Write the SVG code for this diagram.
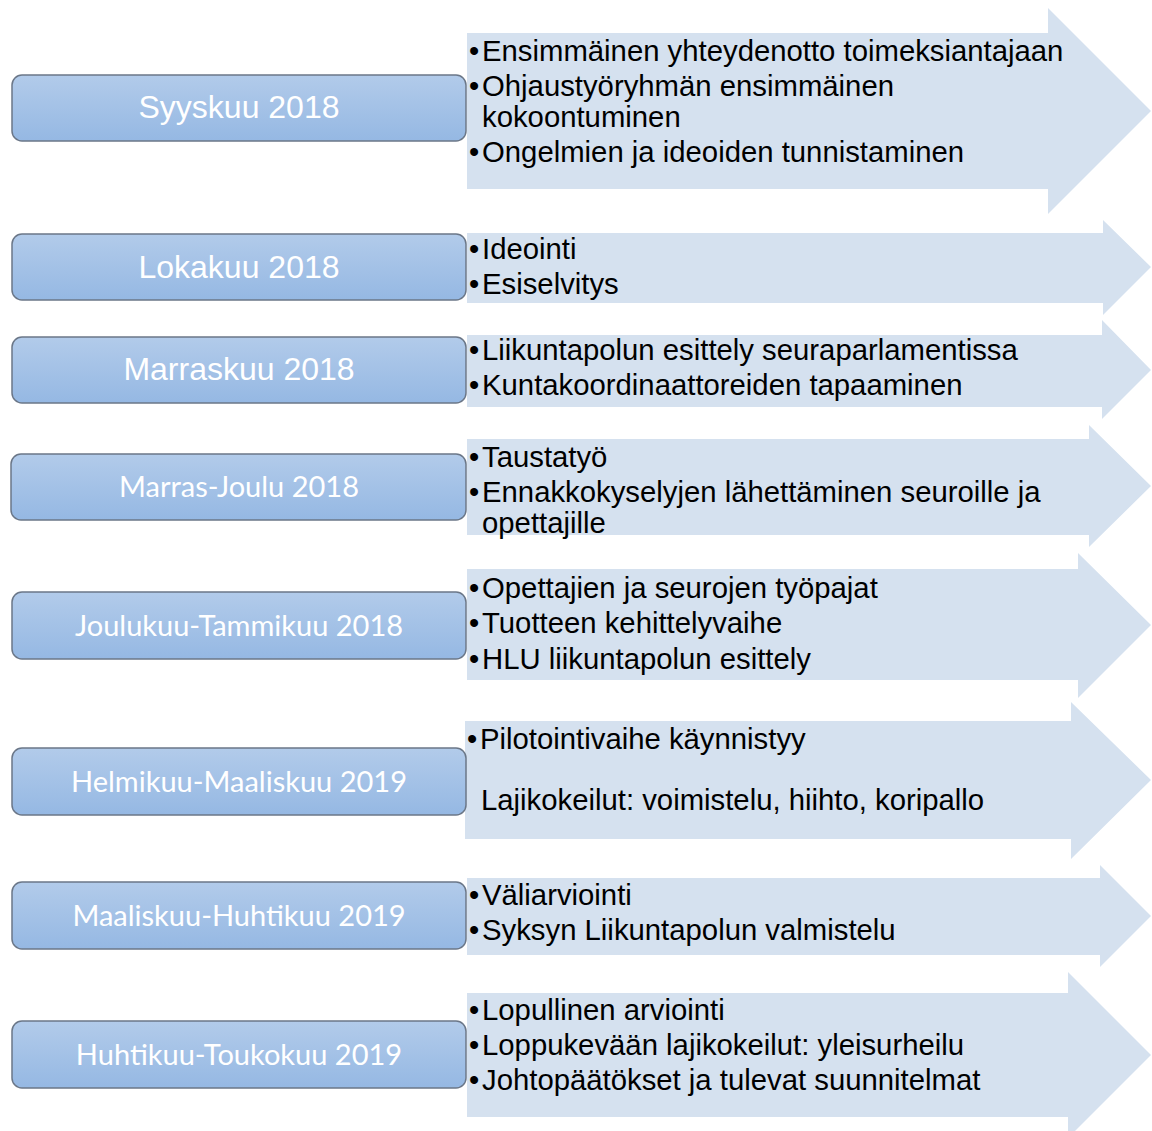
<svg xmlns="http://www.w3.org/2000/svg" width="1152" height="1131" viewBox="0 0 1152 1131">
<defs>
<linearGradient id="bg" x1="0" y1="0" x2="0" y2="1">
<stop offset="0" stop-color="#b2cbea"/>
<stop offset="1" stop-color="#95b8e3"/>
</linearGradient>
<style>
.arrow{fill:#d5e1ef;stroke:none}
.box{fill:url(#bg);stroke:#6b7788;stroke-width:1.5}
.la{font-family:"Liberation Sans",Arial,sans-serif;font-size:32px;fill:#ffffff;text-anchor:middle}
.lc{font-family:Lato,"Open Sans",sans-serif;font-size:29px;fill:#ffffff;text-anchor:middle}
.t{font-family:"Liberation Sans",Arial,sans-serif;font-size:29.3px;fill:#000000}
</style>
</defs>
<rect width="1152" height="1131" fill="#ffffff"/>
<g id="arrows">
<polygon class="arrow" points="467,33 1048,33 1048,8 1151,111 1048,214 1048,189 467,189"/>
<polygon class="arrow" points="467,233 1103,233 1103,220 1151,267 1103,315 1103,303 467,303"/>
<polygon class="arrow" points="467,335 1102,335 1102,320 1151,370 1102,419 1102,407 467,407"/>
<polygon class="arrow" points="467,439 1089,439 1089,425 1151,486 1089,547 1089,535 467,535"/>
<polygon class="arrow" points="467,569 1078,569 1078,553 1151,625 1078,698 1078,680 467,680"/>
<polygon class="arrow" points="465,721 1071,721 1071,702 1151,780 1071,859 1071,839 465,839"/>
<polygon class="arrow" points="467,878 1100,878 1100,865 1151,916 1100,967 1100,955 467,955"/>
<polygon class="arrow" points="467,993 1068,993 1068,972 1151,1055 1068,1138 1068,1117 467,1117"/>
</g>
<g id="n1">
<rect class="box" x="12" y="75" width="454" height="66" rx="10"/>
<text class="la" x="239" y="118">Syyskuu 2018</text>
<text class="t"><tspan x="469" y="61">•</tspan><tspan x="482" y="61">Ensimmäinen yhteydenotto toimeksiantajaan</tspan><tspan x="469" y="96">•</tspan><tspan x="482" y="96">Ohjaustyöryhmän ensimmäinen</tspan><tspan x="482" y="127">kokoontuminen</tspan><tspan x="469" y="162">•</tspan><tspan x="482" y="162">Ongelmien ja ideoiden tunnistaminen</tspan></text>
</g>
<g id="n2">
<rect class="box" x="12" y="234" width="454" height="66" rx="10"/>
<text class="la" x="239" y="278">Lokakuu 2018</text>
<text class="t"><tspan x="469" y="259">•</tspan><tspan x="482" y="259">Ideointi</tspan><tspan x="469" y="294">•</tspan><tspan x="482" y="294">Esiselvitys</tspan></text>
</g>
<g id="n3">
<rect class="box" x="12" y="337" width="454" height="66" rx="10"/>
<text class="la" x="239" y="380">Marraskuu 2018</text>
<text class="t"><tspan x="469" y="360">•</tspan><tspan x="482" y="360">Liikuntapolun esittely seuraparlamentissa</tspan><tspan x="469" y="395">•</tspan><tspan x="482" y="395">Kuntakoordinaattoreiden tapaaminen</tspan></text>
</g>
<g id="n4">
<rect class="box" x="11" y="454" width="455" height="66" rx="10"/>
<text class="lc" x="239" y="497">Marras-Joulu 2018</text>
<text class="t"><tspan x="469" y="467">•</tspan><tspan x="482" y="467">Taustatyö</tspan><tspan x="469" y="502">•</tspan><tspan x="482" y="502">Ennakkokyselyjen lähettäminen seuroille ja</tspan><tspan x="482" y="533">opettajille</tspan></text>
</g>
<g id="n5">
<rect class="box" x="12" y="592" width="454" height="67" rx="10"/>
<text class="lc" x="239" y="636">Joulukuu-Tammikuu 2018</text>
<text class="t"><tspan x="469" y="598">•</tspan><tspan x="482" y="598">Opettajien ja seurojen työpajat</tspan><tspan x="469" y="633">•</tspan><tspan x="482" y="633">Tuotteen kehittelyvaihe</tspan><tspan x="469" y="669">•</tspan><tspan x="482" y="669">HLU liikuntapolun esittely</tspan></text>
</g>
<g id="n6">
<rect class="box" x="12" y="748" width="454" height="67" rx="10"/>
<text class="lc" x="239" y="792">Helmikuu-Maaliskuu 2019</text>
<text class="t"><tspan x="467" y="749">•</tspan><tspan x="480" y="749">Pilotointivaihe käynnistyy</tspan><tspan x="481" y="810">Lajikokeilut: voimistelu, hiihto, koripallo</tspan></text>
</g>
<g id="n7">
<rect class="box" x="12" y="882" width="454" height="67" rx="10"/>
<text class="lc" x="239" y="926">Maaliskuu-Huhtikuu 2019</text>
<text class="t"><tspan x="469" y="905">•</tspan><tspan x="482" y="905">Väliarviointi</tspan><tspan x="469" y="940">•</tspan><tspan x="482" y="940">Syksyn Liikuntapolun valmistelu</tspan></text>
</g>
<g id="n8">
<rect class="box" x="12" y="1021" width="454" height="67" rx="10"/>
<text class="lc" x="239" y="1065">Huhtikuu-Toukokuu 2019</text>
<text class="t"><tspan x="469" y="1020">•</tspan><tspan x="482" y="1020">Lopullinen arviointi</tspan><tspan x="469" y="1055">•</tspan><tspan x="482" y="1055">Loppukevään lajikokeilut: yleisurheilu</tspan><tspan x="469" y="1090">•</tspan><tspan x="482" y="1090">Johtopäätökset ja tulevat suunnitelmat</tspan></text>
</g>
</svg>
